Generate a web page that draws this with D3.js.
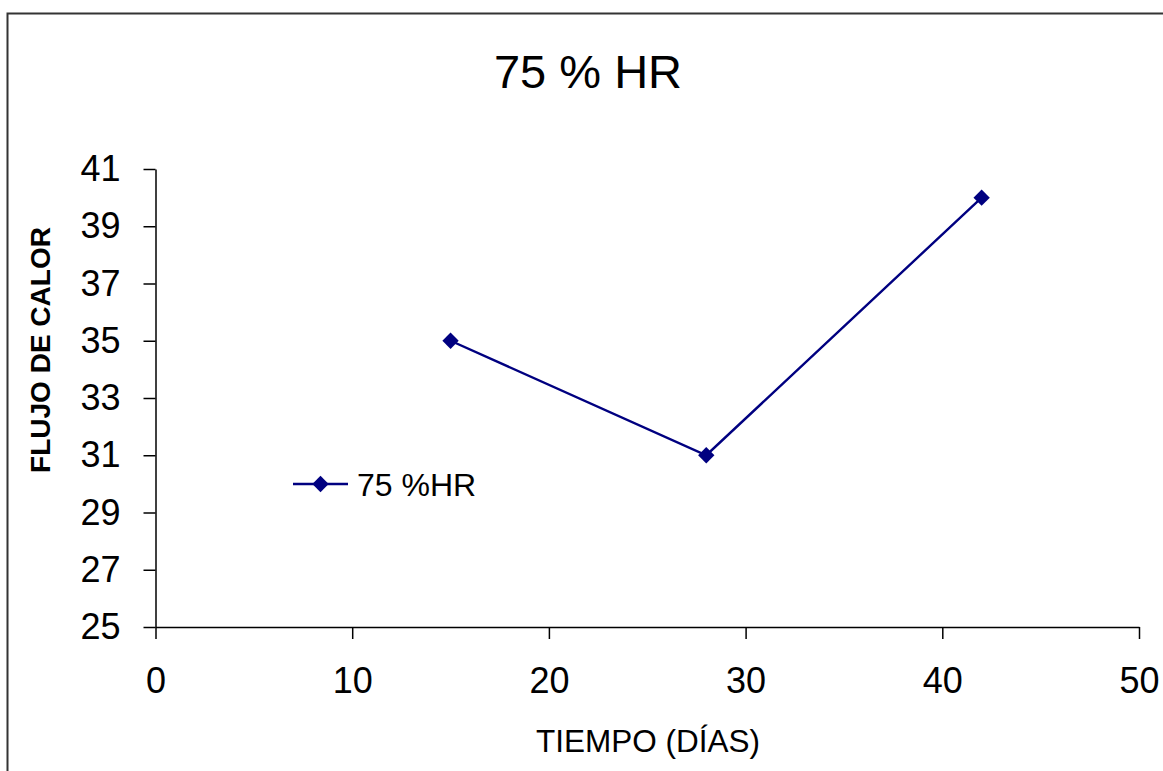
<!DOCTYPE html>
<html>
<head>
<meta charset="utf-8">
<script src="https://cdn.jsdelivr.net/npm/d3@7"></script>
<style>
  body { margin: 0; background: #fff; }
  svg { display: block; }
</style>
</head>
<body>
<svg id="chart"></svg>
<script>
// Data
const seriesName = "75 %HR";
const dias = [15, 28, 42];
const flujo = [35, 31, 40];
const xTicks = [0, 10, 20, 30, 40, 50];
const yTicks = [25, 27, 29, 31, 33, 35, 37, 39, 41];

document.addEventListener('DOMContentLoaded', function () {
    drawChart('chart');
});

function drawChart(id) {
    const W = 1163, H = 771;
    const font = "'Liberation Sans', Arial, sans-serif";
    const navy = "#000080";

    const svg = d3.select(`#${id}`)
        .attr("width", W)
        .attr("height", H);

    svg.append("rect")
        .attr("width", W).attr("height", H)
        .attr("fill", "#fff");

    // outer chart frame (runs off the right and bottom edge)
    svg.append("rect")
        .attr("x", 7.5).attr("y", 13.5)
        .attr("width", W + 20).attr("height", H + 20)
        .attr("fill", "none")
        .attr("stroke", "#333")
        .attr("stroke-width", 2);

    const x = d3.scaleLinear().domain([0, 50]).range([155.5, 1139]);
    const y = d3.scaleLinear().domain([25, 41]).range([627, 169]);

    // Title
    svg.append("text")
        .attr("x", 588).attr("y", 88)
        .attr("text-anchor", "middle")
        .attr("font-family", font)
        .attr("font-size", 47)
        .text("75 % HR");

    // Y axis
    const yAxis = svg.append("g")
        .attr("transform", `translate(${x(0)},0)`)
        .call(d3.axisLeft(y)
            .tickValues(yTicks)
            .tickSize(12)
            .tickSizeOuter(0)
            .tickPadding(23)
            .tickFormat(d3.format("d")));

    // X axis
    const xAxis = svg.append("g")
        .attr("transform", `translate(0,${y(25)})`)
        .call(d3.axisBottom(x)
            .tickValues(xTicks)
            .tickSize(12)
            .tickSizeOuter(0)
            .tickPadding(28)
            .tickFormat(d3.format("d")));

    [xAxis, yAxis].forEach(g => {
        g.selectAll("path, line").attr("stroke", "#000").attr("stroke-width", 1.5);
        g.selectAll("text")
            .attr("font-family", font)
            .attr("font-size", 36)
            .attr("fill", "#000");
    });

    // Axis titles
    svg.append("text")
        .attr("x", 648).attr("y", 752)
        .attr("text-anchor", "middle")
        .attr("font-family", font)
        .attr("font-size", 31.5)
        .text("TIEMPO (DÍAS)");

    svg.append("text")
        .attr("transform", "translate(50,350) rotate(-90)")
        .attr("text-anchor", "middle")
        .attr("font-family", font)
        .attr("font-size", 28)
        .attr("font-weight", "bold")
        .text("FLUJO DE CALOR");

    // Series
    const points = dias.map((d, i) => ({ x: d, y: flujo[i] }));
    const line = d3.line().x(d => x(d.x)).y(d => y(d.y));

    svg.append("path")
        .attr("d", line(points))
        .attr("fill", "none")
        .attr("stroke", navy)
        .attr("stroke-width", 2.4);

    const diamond = d3.symbol().type(d3.symbolDiamond2).size(170);

    svg.selectAll(".pt")
        .data(points)
        .join("path")
        .attr("class", "pt")
        .attr("transform", d => `translate(${x(d.x)},${y(d.y)})`)
        .attr("d", diamond)
        .attr("fill", navy);

    // Legend
    const lg = svg.append("g").attr("transform", "translate(293,484)");
    lg.append("line")
        .attr("x1", 0).attr("x2", 55)
        .attr("stroke", navy).attr("stroke-width", 2.4);
    lg.append("path")
        .attr("transform", "translate(27.5,0)")
        .attr("d", diamond)
        .attr("fill", navy);
    lg.append("text")
        .attr("x", 64).attr("y", 11.5)
        .attr("font-family", font)
        .attr("font-size", 32)
        .text(seriesName);
}
</script>
</body>
</html>
